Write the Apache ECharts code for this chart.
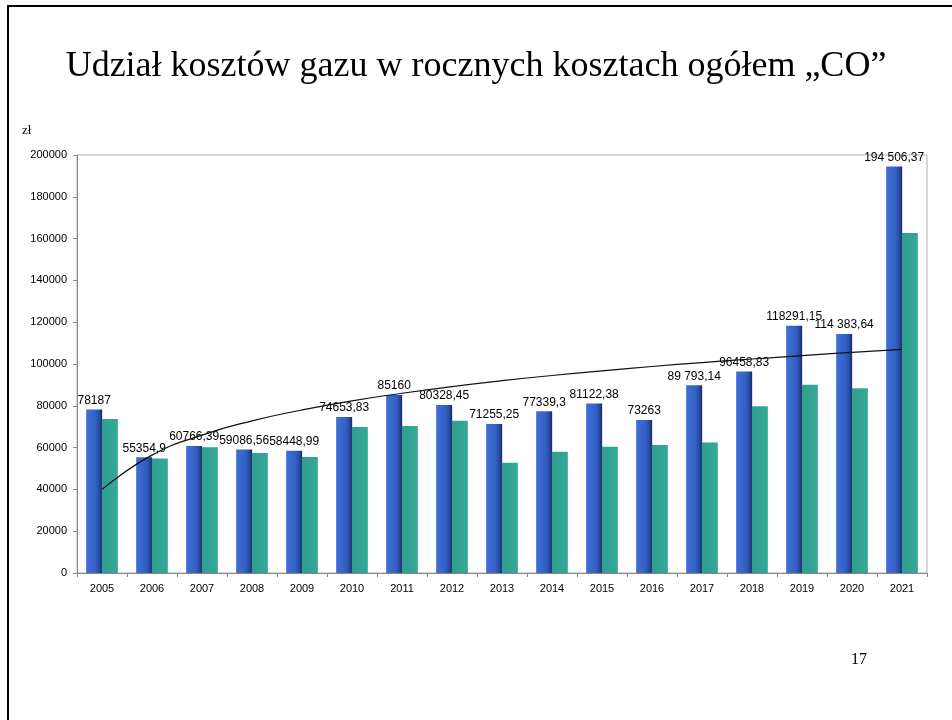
<!DOCTYPE html>
<html>
<head>
<meta charset="utf-8">
<script src="https://cdn.jsdelivr.net/npm/echarts@6/dist/echarts.min.js"></script>
<style>
  html, body { margin: 0; padding: 0; background: #fff; }
  #chart { width: 952px; height: 720px; }
</style>
</head>
<body>
<div id="chart"></div>
<script>
// dane z wykresu
const years = ['2005', '2006', '2007', '2008', '2009', '2010', '2011', '2012', '2013',
  '2014', '2015', '2016', '2017', '2018', '2019', '2020', '2021']
const totalCosts = [78187, 55354.9, 60766.39, 59086.56, 58448.99, 74653.83, 85160, 80328.45,
  71255.25, 77339.3, 81122.38, 73263, 89793.14, 96458.83, 118291.15, 114383.64, 194506.37]
const totalLabels = ['78187', '55354,9', '60766,39', '59086,56', '58448,99', '74653,83', '85160',
  '80328,45', '71255,25', '77339,3', '81122,38', '73263', '89 793,14', '96458,83', '118291,15',
  '114 383,64', '194 506,37']
const gasCosts = [73700, 54800, 60200, 57400, 55500, 69900, 70300, 72900, 52800, 58000,
  60400, 61200, 62500, 79800, 90100, 88400, 162700]
// linia trendu
const trend = [40000, 56400, 66000, 72800, 78000, 82400, 86000, 89200, 92000, 94500,
  96700, 98800, 100700, 102400, 104000, 105600, 107000]
const yTicks = [0, 20000, 40000, 60000, 80000, 100000, 120000, 140000, 160000, 180000, 200000]

const chart = echarts.init(document.getElementById('chart'))

const blue = new echarts.graphic.LinearGradient(0, 0, 1, 0, [
  { offset: 0, color: '#3f6fd6' },
  { offset: 0.55, color: '#3462c8' },
  { offset: 0.8, color: '#2a4fa8' },
  { offset: 1, color: '#17285e' }
])
const green = new echarts.graphic.LinearGradient(0, 0, 1, 0, [
  { offset: 0, color: '#2f9e8f' },
  { offset: 1, color: '#35a996' }
])

chart.setOption({
  animation: false,
  backgroundColor: '#fff',
  title: {
    text: 'Udział kosztów gazu w rocznych kosztach ogółem „CO”',
    left: 'center',
    top: 44,
    textStyle: { fontFamily: 'Liberation Serif', fontSize: 36, fontWeight: 'normal', color: '#000' }
  },
  graphic: [
    { type: 'rect', shape: { x: 8, y: 6, width: 980, height: 760 },
      style: { fill: 'none', stroke: '#000', lineWidth: 2 } },
    { type: 'text', left: 22, top: 124,
      style: { text: 'zł', font: '13px "Liberation Serif"', fill: '#000' } },
    { type: 'text', left: 851, top: 652,
      style: { text: '17', font: '16px "Liberation Serif"', fill: '#000' } }
  ],
  grid: { left: 77, right: 25, top: 155, bottom: 147, show: true, borderColor: '#b0b0b0', borderWidth: 1 },
  xAxis: {
    type: 'category',
    data: years,
    axisLine: { lineStyle: { color: '#888' } },
    axisTick: { show: true, length: 4, lineStyle: { color: '#888' } },
    axisLabel: { color: '#000', fontFamily: 'Liberation Sans', fontSize: 11, margin: 10 }
  },
  yAxis: {
    type: 'value',
    min: yTicks[0],
    max: yTicks[yTicks.length - 1],
    interval: yTicks[1] - yTicks[0],
    axisLine: { show: true, lineStyle: { color: '#888' } },
    axisTick: { show: true, length: 4, lineStyle: { color: '#888' } },
    splitLine: { show: false },
    axisLabel: {
      color: '#000', fontFamily: 'Liberation Sans', fontSize: 11, margin: 10,
      formatter: v => String(v)
    }
  },
  series: [
    {
      type: 'bar',
      data: totalCosts,
      barWidth: 16,
      barGap: '-2%',
      itemStyle: { color: blue },
      label: {
        show: true,
        position: 'top',
        distance: 3,
        color: '#000',
        fontFamily: 'Liberation Sans',
        fontSize: 12,
        formatter: p => totalLabels[p.dataIndex]
      },
      z: 2
    },
    {
      type: 'bar',
      data: gasCosts,
      barWidth: 16,
      itemStyle: { color: green },
      z: 2
    },
    {
      type: 'line',
      data: trend,
      smooth: true,
      symbol: 'none',
      lineStyle: { color: '#111', width: 1.2 },
      z: 3
    }
  ]
})

window.addEventListener('resize', () => {
  chart.resize()
})
</script>
</body>
</html>
